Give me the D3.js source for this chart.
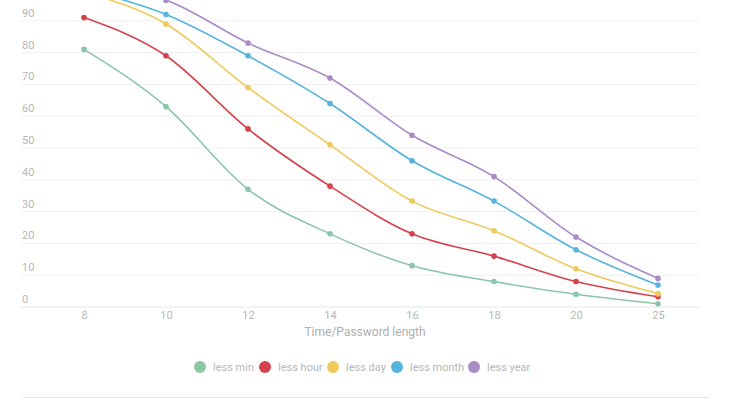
<!DOCTYPE html>
<html lang="en">
<head>
<meta charset="UTF-8">
<script src="https://d3js.org/d3.v7.min.js"></script>
<style>
  body { margin: 0; background: #fff; }
  svg { display: block; font-family: Roboto, "Noto Sans", sans-serif; }
</style>
</head>
<body>
<div id="chart"></div>
<script>
// data
var lengths = ["8", "10", "12", "14", "16", "18", "20", "25"];
var seriesNames = ["less min", "less hour", "less day", "less month", "less year"];
var lessMin   = [81, 63, 37, 23, 13, 8, 4, 1];
var lessHour  = [91, 79, 56, 38, 23, 16, 8, 3.2];
var lessDay   = [99, 89, 69, 51, 33.3, 24, 12, 4.2];
var lessMonth = [100, 92, 79, 64, 46, 33.3, 18, 6.9];
var lessYear  = [101, 96.5, 83, 72, 54, 41, 22, 9];
var yTicks = [0, 10, 20, 30, 40, 50, 60, 70, 80, 90];
var colors = ["#8cc6a9", "#d4434c", "#efc95c", "#55b4de", "#aa8bc6"];

var width = 730, height = 412;
var allSeries = [lessMin, lessHour, lessDay, lessMonth, lessYear];

var svg = d3.select("#chart").append("svg")
  .attr("width", width).attr("height", height);

var x = d3.scalePoint().domain(lengths).range([84, 658]);
var y = d3.scaleLinear().domain([0, 100]).range([307, -11]);

// grid lines + y labels
var grid = svg.append("g");
grid.selectAll("line").data(yTicks).join("line")
  .attr("x1", 20).attr("x2", 700)
  .attr("y1", d => y(d)).attr("y2", d => y(d))
  .attr("stroke", d => d === 0 ? "#e6e6e6" : "#f0f0f0")
  .attr("stroke-width", 1);
grid.selectAll("text").data(yTicks).join("text")
  .attr("x", 22).attr("y", d => y(d) - 4)
  .attr("fill", "#b8b8b8").attr("font-size", "11px")
  .text(d => d);

// x axis labels
var xAxis = svg.append("g").attr("transform", "translate(0,307)")
  .call(d3.axisBottom(x).tickSize(0).tickPadding(4));
xAxis.select(".domain").remove();
xAxis.selectAll("text").attr("fill", "#b8b8b8").attr("font-size", "11px")
  .attr("font-family", "Roboto, sans-serif");

svg.append("text")
  .attr("x", 365).attr("y", 336)
  .attr("text-anchor", "middle")
  .attr("fill", "#b0b0b0").attr("font-size", "12px")
  .text("Time/Password length");

// lines
var line = d3.line()
  .x((d, i) => x(lengths[i]))
  .y(d => y(d))
  .curve(d3.curveMonotoneX);

var plot = svg.append("g");
allSeries.forEach(function (vals, s) {
  plot.append("path")
    .datum(vals)
    .attr("d", line)
    .attr("fill", "none")
    .attr("stroke", colors[s])
    .attr("stroke-width", 1.6);
  plot.selectAll(".dot" + s).data(vals).join("circle")
    .attr("class", "dot" + s)
    .attr("cx", (d, i) => x(lengths[i]))
    .attr("cy", d => y(d))
    .attr("r", 2.8)
    .attr("fill", colors[s]);
});

// legend
var legendX = [200, 265, 333, 397, 474];
var legend = svg.append("g");
seriesNames.forEach(function (name, s) {
  legend.append("circle")
    .attr("cx", legendX[s]).attr("cy", 367).attr("r", 6)
    .attr("fill", colors[s]);
  legend.append("text")
    .attr("x", legendX[s] + 13).attr("y", 371)
    .attr("fill", "#b8b8b8").attr("font-size", "11px")
    .text(name);
});

// bottom rule
svg.append("line")
  .attr("x1", 22).attr("x2", 708)
  .attr("y1", 397.5).attr("y2", 397.5)
  .attr("stroke", "#e4e4e4");
</script>
</body>
</html>
